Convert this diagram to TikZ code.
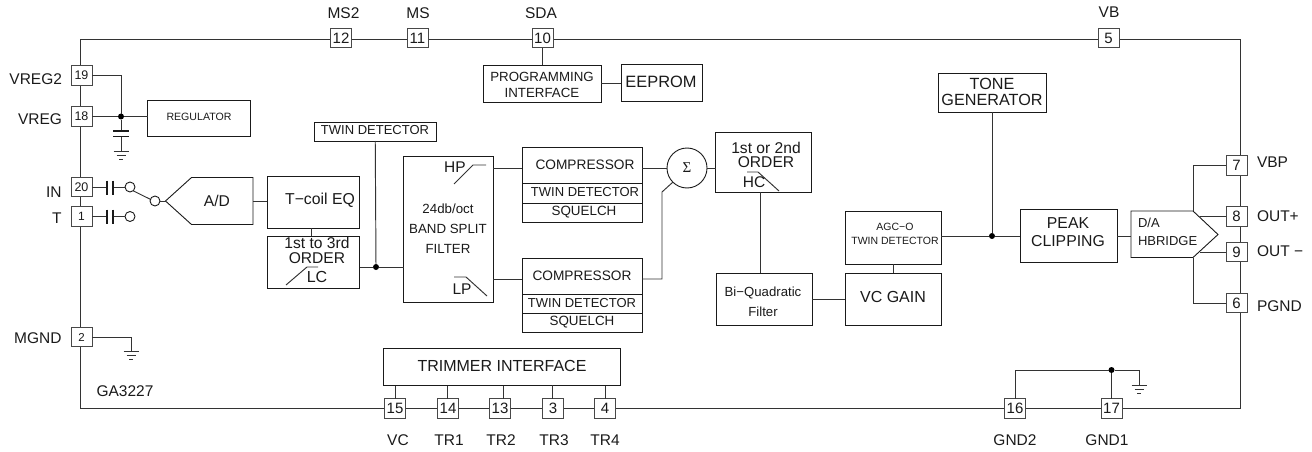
\documentclass[tikz,border=0pt]{standalone}
\usepackage{fontspec}
\setmainfont{Liberation Sans}
\newfontfamily\serifsym{Liberation Serif}
\definecolor{ink}{HTML}{1A1A1A}
\definecolor{wire}{HTML}{333333}
\newcounter{tc}
\tikzset{
  boxnode/.style={draw=ink,line width=0.9pt,fill=white,inner sep=0pt,outer sep=0pt},
  pinbox/.style={draw=ink!80,line width=0.9pt,fill=white,inner sep=0pt,outer sep=0pt,minimum width=21pt,minimum height=19.5pt,text=ink},
  wireline/.style={draw=wire,line width=0.95pt},
  capplate/.style={draw=ink,line width=1.9pt},
  dotnode/.style={circle,fill=black,inner sep=0pt,outer sep=0pt,minimum size=6pt},
  opencirc/.style={circle,draw=ink,line width=0.9pt,fill=white,inner sep=0pt,outer sep=0pt,minimum size=10pt},
  txt/.style={inner sep=0pt,outer sep=0pt,text=ink,align=center},
}
% name x0 y0 x1 y1
\newcommand{\bx}[5]{\node[boxnode,minimum width=#4pt-#2pt,minimum height=#5pt-#3pt] (#1) at ({(#2+#4)/2},{(#3+#5)/2}) {};}
% x y size leading text
\newcommand{\tx}[5]{\stepcounter{tc}\node[txt,font=\fontsize{#3}{#4}\selectfont] (t\arabic{tc}) at (#1,#2) {#5};}
\newcommand{\rtx}[4]{\stepcounter{tc}\node[txt,anchor=east,font=\fontsize{#3}{18}\selectfont] (t\arabic{tc}) at (#1,#2) {#4};}
\newcommand{\ltx}[4]{\stepcounter{tc}\node[txt,anchor=west,font=\fontsize{#3}{18}\selectfont] (t\arabic{tc}) at (#1,#2) {#4};}
% name x y size text
\newcommand{\pin}[5]{\node[pinbox,font=\fontsize{#4}{#4}\selectfont] (#1) at (#2,#3) {#5};}
% ground at coordinate name: x y
\newcommand{\gnd}[2]{\draw[wireline,line width=0.8pt] ({#1-7.5},#2) -- ({#1+7.5},#2) ({#1-4.5},{#2+4}) -- ({#1+4.5},{#2+4}) ({#1-2},{#2+8}) -- ({#1+2},{#2+8});}
\begin{document}
\begin{tikzpicture}[x=1pt,y=-1pt]
\useasboundingbox (0,0) rectangle (1312,452);
% chip outline
\draw[wireline] (80,39.5) rectangle (1240,408.5);

% pins
\pin{p19}{81.5}{75.5}{12.5}{19}
\pin{p18}{81.5}{116.5}{12.5}{18}
\pin{p20}{81.5}{187}{12.5}{20}
\pin{p1}{81.5}{216.5}{12}{1}
\pin{p2}{81.5}{337}{11.5}{2}
\pin{p12}{341}{38}{15}{12}
\pin{p11}{417.5}{38}{15}{11}
\pin{p10}{542.5}{38}{15}{10}
\pin{p5}{1108.5}{38}{15}{5}
\pin{p7}{1236.5}{165.5}{15}{7}
\pin{p8}{1236.5}{216.5}{15}{8}
\pin{p9}{1236.5}{252}{15}{9}
\pin{p6}{1236.5}{303}{15}{6}
\pin{p15}{395}{408.5}{15}{15}
\pin{p14}{448}{408.5}{15}{14}
\pin{p13}{500}{408.5}{15}{13}
\pin{p3}{553}{408.5}{15}{3}
\pin{p4}{605}{408.5}{15}{4}
\pin{p16}{1015}{408.5}{15}{16}
\pin{p17}{1111.5}{408.5}{15}{17}

% boxes
\bx{reg}{147.5}{100}{250}{136}
\bx{tcoil}{267}{176}{359.5}{228}
\bx{lcbox}{267}{236}{359.5}{288}
\bx{twintop}{314.5}{122}{436}{141}
\bx{filt}{403.5}{156}{493}{302}
\bx{prog}{483}{65.5}{601}{102}
\bx{eeprom}{621}{64.5}{702}{101}
\bx{compa}{522}{147.5}{642}{183.5}
\bx{twina}{522}{183.5}{642}{203}
\bx{squa}{522}{203}{642}{222}
\bx{compb}{522}{258}{642}{294.5}
\bx{twinb}{522}{294.5}{642}{313}
\bx{squb}{522}{313}{642}{332}
\bx{hcbox}{715.5}{132}{811.5}{192}
\bx{biquad}{716}{273}{812}{325.5}
\bx{vcgain}{845}{273}{941}{325.5}
\bx{agc}{845}{211}{941}{264}
\bx{tone}{938}{73}{1046}{112}
\bx{peak}{1020}{209.5}{1117}{262.5}
\bx{trim}{383}{348}{620}{385.5}
\node[circle,draw=ink,line width=0.9pt,fill=white,inner sep=0pt,outer sep=0pt,minimum size=40pt,font=\serifsym\fontsize{15}{15}\selectfont,text=ink] (sum) at (687,168) {Σ};

% converters
\coordinate (adtip) at (165.5,201);
\coordinate (adr) at (253,201);
\draw[boxnode] (adtip) -- (191.5,177.5) -- (253,177.5) -- (253,224.5) -- (191.5,224.5) -- cycle;
\coordinate (dal) at (1131,234.5);
\coordinate (datop) at (1193,211);
\coordinate (dabot) at (1193,257.5);
\coordinate (daa) at (1200,216.5);
\coordinate (dab) at (1200,252);
\draw[boxnode] (1131,211) -- (datop) -- (1218,234.5) -- (dabot) -- (1131,257.5) -- cycle;

% junctions
\node[dotnode] (jreg) at (121,116.5) {};
\node[dotnode] (jlc) at (376,267) {};
\node[dotnode] (jtone) at (992,236) {};
\node[dotnode] (jgnd) at (1111.5,370) {};
\node[opencirc] (oin) at (130,187) {};
\node[opencirc] (ot) at (130,216.5) {};
\node[opencirc] (osw) at (155,201) {};
\coordinate (capv) at (121,131);
\coordinate (capw) at (121,136.5);
\coordinate (g1) at (121,151);
\coordinate (g2) at (131,351);
\coordinate (g3) at (1139,385);

% connectors: left side
\draw[wireline] (p19.east) -| (jreg);
\draw[wireline] (p18.east) -- (jreg) -- (jreg -| reg.west);
\draw[wireline] (jreg) -- (capv);
\draw[wireline] (capw) -- (g1);
\draw[capplate] (113,131) -- (129,131) (113,136.5) -- (129,136.5);
\gnd{121}{151}
\draw[wireline] (p20.east) -- (107,187) (113,187) -- (oin);
\draw[capplate] (107,180.5) -- (107,194.5) (113,180.5) -- (113,194.5);
\draw[wireline] (p1.east) -- (107,216.5) (113,216.5) -- (ot);
\draw[capplate] (107,209.5) -- (107,223.5) (113,209.5) -- (113,223.5);
\draw[wireline] (oin.-50) -- (osw.160);
\draw[wireline] (osw) -- (adtip);
\draw[wireline] (adr) -- (adr -| tcoil.west);
\draw[wireline] (p2.east) -| (g2);
\gnd{131}{351}
% connectors: centre
\draw[wireline] (tcoil.south) ++(-1.5,0) -- ++(0,8);
\draw[wireline] (jlc -| lcbox.east) -- (jlc) -- (jlc -| filt.west);
\draw[wireline] (twintop.south) -- (jlc);
\draw[wireline] (p10.south) -- (p10.south |- prog.north);
\draw[wireline] (prog.east) ++(0,-0.5) -- ++(20,0);
\draw[wireline] (493,168) -- (compa.west |- 0,168);
\draw[wireline] (493,279) -- (compb.west |- 0,279);
\draw[wireline] (642,168) -- (sum.west);
\draw[wireline] (642,279) -- (662,279) -- (662,192) -- (sum.225);
\draw[wireline] (sum.east) -- (sum.east -| hcbox.west);
\draw[wireline] (760,192) -- (760,273);
\draw[wireline] (biquad.east) ++(0,0) -- (vcgain.west);
\draw[wireline] (agc.south) -- (vcgain.north);
\draw[wireline] (jtone -| agc.east) -- (jtone) -- (jtone -| peak.west);
\draw[wireline] (tone.south) ++(-0,0) -- (jtone);
\draw[wireline] (peak.east |- dal) ++(0,2) -- (1131,236.5);
% connectors: right
\draw[wireline] (datop) |- (p7.west);
\draw[wireline] (daa) -- (p8.west);
\draw[wireline] (dab) -- (p9.west);
\draw[wireline] (dabot) |- (p6.west);
% connectors: bottom
\draw[wireline] (p15.north) -- (p15.north |- trim.south);
\draw[wireline] (447,385.5) -- (447,399);
\draw[wireline] (503,385.5) -- (503,399);
\draw[wireline] (p3.north) ++(-1,0) -- ++(0,-13.5);
\draw[wireline] (p4.north) -- (p4.north |- trim.south);
\draw[wireline] (p16.north) |- (jgnd);
\draw[wireline] (jgnd) -| (g3);
\draw[wireline] (jgnd) -- (p17.north);
\gnd{1139}{385}

% filter slopes
\draw[wireline] (286,285) -- (307,267) -- (318,267);
\draw[wireline] (454,184) -- (473,165) -- (486,165);
\draw[wireline] (454,277) -- (466,277) -- (487,296);
\draw[wireline] (747,172) -- (758,172) -- (779,191);

% pin labels
\rtx{62}{79}{15.5}{VREG2}
\rtx{62}{119.5}{15.5}{VREG}
\rtx{61.5}{192.5}{15.5}{IN}
\rtx{61.5}{218}{15.5}{T}
\rtx{61.5}{338}{15.5}{MGND}
\tx{343.5}{13}{15.5}{18}{MS2}
\tx{418}{13}{15.5}{18}{MS}
\tx{541}{13}{15.5}{18}{SDA}
\tx{1109}{12.5}{15.5}{18}{VB}
\ltx{1257}{162}{15.5}{VBP}
\ltx{1257}{216}{15.5}{OUT+}
\ltx{1257}{251}{15.5}{OUT −}
\ltx{1257}{306}{15.5}{PGND}
\tx{398}{440}{15.5}{18}{VC}
\tx{449}{440}{15.5}{18}{TR1}
\tx{501}{440}{15.5}{18}{TR2}
\tx{554}{440}{15.5}{18}{TR3}
\tx{605}{440}{15.5}{18}{TR4}
\tx{1015}{440}{15.5}{18}{GND2}
\tx{1107}{440}{15.5}{18}{GND1}
\tx{125}{391}{15.5}{18}{GA3227}

% box labels
\tx{199}{117}{10.6}{13}{REGULATOR}
\tx{217}{200.5}{15.6}{18}{A/D}
\tx{320}{200}{15.8}{18}{T−coil EQ}
\tx{317}{250.5}{15.6}{15.5}{1st to 3rd\\ORDER}
\tx{317}{277}{16}{18}{LC}
\tx{375}{130.5}{13}{15}{TWIN DETECTOR}
\tx{448}{228.5}{13.3}{19.8}{24db/oct\\BAND SPLIT\\FILTER}
\tx{455}{167}{15.5}{18}{HP}
\tx{462}{289}{15.5}{18}{LP}
\tx{542}{85}{13.3}{16}{PROGRAMMING\\INTERFACE}
\tx{661}{82}{16.4}{18}{EEPROM}
\tx{585}{165}{13.7}{16}{COMPRESSOR}
\tx{585}{192.5}{13}{15}{TWIN DETECTOR}
\tx{584}{212}{13.4}{15}{SQUELCH}
\tx{582}{276}{13.7}{16}{COMPRESSOR}
\tx{582}{303.5}{13}{15}{TWIN DETECTOR}
\tx{582}{322}{13.4}{15}{SQUELCH}
\tx{766}{155}{15.6}{14}{1st or 2nd\\ORDER}
\tx{754}{182}{15.5}{18}{HC}
\tx{763}{302}{13.2}{20}{Bi−Quadratic\\Filter}
\tx{893}{297}{16}{18}{VC GAIN}
\tx{895}{234}{10.5}{14}{AGC−O\\TWIN DETECTOR}
\tx{992}{92}{16.2}{16}{TONE\\GENERATOR}
\tx{1068}{232}{15.8}{17.5}{PEAK\\CLIPPING}
\stepcounter{tc}\node[txt,align=left,anchor=west,font=\fontsize{13}{18}\selectfont] (t\arabic{tc}) at (1138,232) {D/A\\HBRIDGE};
\tx{502}{366}{16}{18}{TRIMMER INTERFACE}
\end{tikzpicture}
\end{document}
